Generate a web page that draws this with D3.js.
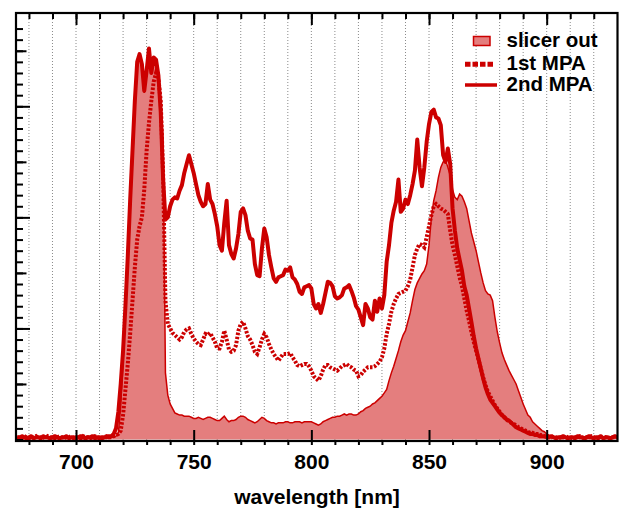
<!DOCTYPE html>
<html><head><meta charset="utf-8">
<script src="https://cdn.jsdelivr.net/npm/d3@7"></script>
<style>html,body{margin:0;padding:0;background:#fff;} svg{display:block;}</style>
</head><body>
<svg id="chart" width="619" height="509"></svg>
<script>
// wavelength grid (nm), 1 nm step
const wavelengths = d3.range(675, 931);

const slicerOut = [
 0.01,0.02,0.01,0.01,0.02,
 0.01,0.01,0.02,0.01,0.02,0.01,0.01,0.02,0.01,0.01,
 0.02,0.01,0.01,0.02,0.01,0.01,0.02,0.01,0.02,0.01,
 0.01,0.02,0.01,0.01,0.02,0.01,0.01,0.02,0.01,0.01,
 0.02,0.01,0.01,0.02,0.01,0.02,0.02,0.03,0.06,0.30,
 0.70,1.15,1.60,2.05,2.50,2.95,3.35,3.45,3.35,3.12,
 3.28,3.45,3.30,3.38,3.36,3.24,3.05,2.70,0.60,0.40,
 0.32,0.28,0.24,0.23,0.22,0.22,0.21,0.21,0.21,0.20,
 0.19,0.19,0.20,0.19,0.18,0.19,0.20,0.20,0.19,0.18,
 0.17,0.17,0.19,0.21,0.18,0.16,0.17,0.17,0.18,0.20,
 0.21,0.21,0.20,0.18,0.17,0.16,0.15,0.16,0.18,0.20,
 0.19,0.17,0.16,0.15,0.15,0.14,0.15,0.15,0.15,0.16,
 0.16,0.15,0.15,0.16,0.16,0.16,0.15,0.16,0.16,0.16,
 0.16,0.15,0.14,0.13,0.14,0.16,0.17,0.18,0.19,0.20,
 0.20,0.21,0.21,0.22,0.23,0.22,0.23,0.23,0.22,0.22,
 0.23,0.25,0.26,0.28,0.29,0.30,0.32,0.33,0.35,0.37,
 0.39,0.42,0.45,0.53,0.60,0.66,0.73,0.80,0.88,0.94,
 0.98,1.06,1.14,1.25,1.35,1.41,1.45,1.49,1.52,1.58,
 1.75,2.00,2.15,2.24,2.36,2.45,2.50,2.52,2.45,2.38,
 2.25,2.18,2.16,2.21,2.19,2.14,2.08,1.97,1.86,1.78,
 1.70,1.60,1.50,1.41,1.34,1.31,1.30,1.25,1.10,0.97,
 0.87,0.78,0.72,0.67,0.62,0.58,0.54,0.50,0.44,0.38,
 0.32,0.27,0.22,0.20,0.16,0.14,0.12,0.10,0.08,0.07,
 0.05,0.04,0.03,0.02,0.01,0.02,0.01,0.01,0.02,0.01,
 0.01,0.02,0.01,0.01,0.02,0.01,0.01,0.02,0.01,0.01,
 0.02,0.01,0.01,0.02,0.01,0.01,0.02,0.01,0.01,0.02,
 0.01
];

const firstMPA = [
 0.02,0.02,0.01,0.03,0.02,
 0.01,0.02,0.02,0.03,0.01,0.02,0.02,0.01,0.03,0.02,
 0.02,0.01,0.02,0.03,0.02,0.01,0.02,0.02,0.03,0.01,
 0.02,0.02,0.01,0.03,0.02,0.02,0.01,0.02,0.03,0.02,
 0.01,0.02,0.02,0.03,0.02,0.02,0.03,0.04,0.05,0.08,
 0.22,0.45,0.68,0.95,1.25,1.55,1.80,1.92,2.00,2.25,
 2.60,2.85,3.05,3.22,3.30,3.25,3.05,2.40,1.25,1.04,
 1.00,0.96,0.94,0.92,0.90,0.92,0.97,0.99,1.00,0.95,
 0.91,0.88,0.86,0.85,0.90,0.95,0.94,0.96,0.92,0.88,
 0.82,0.82,0.88,0.98,0.90,0.81,0.79,0.80,0.85,0.98,
 1.04,1.06,1.00,0.93,0.90,0.85,0.79,0.77,0.83,0.90,
 0.95,0.92,0.86,0.81,0.77,0.74,0.71,0.74,0.77,0.77,
 0.77,0.78,0.74,0.71,0.67,0.66,0.67,0.68,0.68,0.66,
 0.62,0.57,0.55,0.53,0.57,0.63,0.67,0.67,0.65,0.64,
 0.63,0.62,0.64,0.66,0.67,0.68,0.66,0.65,0.63,0.62,
 0.57,0.58,0.61,0.63,0.65,0.65,0.65,0.66,0.68,0.70,
 0.74,0.82,0.95,1.04,1.15,1.22,1.27,1.31,1.32,1.33,
 1.34,1.38,1.44,1.55,1.66,1.72,1.76,1.75,1.73,1.82,
 1.92,2.02,2.10,2.12,2.10,2.08,2.07,2.05,2.03,1.88,
 1.75,1.66,1.56,1.46,1.38,1.27,1.16,1.07,0.97,0.88,
 0.80,0.72,0.64,0.56,0.49,0.43,0.39,0.35,0.31,0.28,
 0.25,0.22,0.20,0.18,0.16,0.15,0.14,0.13,0.11,0.10,
 0.09,0.08,0.07,0.06,0.06,0.05,0.05,0.04,0.04,0.03,
 0.03,0.02,0.02,0.03,0.02,0.01,0.02,0.02,0.03,0.02,
 0.02,0.01,0.02,0.02,0.03,0.02,0.01,0.02,0.02,0.03,
 0.02,0.02,0.01,0.02,0.03,0.02,0.02,0.01,0.02,0.02,
 0.02
];

const secondMPA = [
 0.02,0.01,0.03,0.02,0.01,
 0.02,0.03,0.01,0.02,0.02,0.01,0.03,0.02,0.02,0.01,
 0.02,0.03,0.02,0.01,0.02,0.02,0.03,0.01,0.02,0.02,
 0.01,0.02,0.03,0.02,0.01,0.02,0.02,0.03,0.01,0.02,
 0.02,0.01,0.02,0.02,0.03,0.03,0.05,0.10,0.25,0.50,
 0.80,1.20,1.65,2.15,2.60,3.05,3.40,3.47,3.38,3.14,
 3.32,3.52,3.30,3.44,3.42,3.28,2.95,2.35,1.98,2.00,
 2.10,2.16,2.18,2.17,2.24,2.29,2.40,2.48,2.56,2.48,
 2.40,2.30,2.20,2.14,2.10,2.12,2.30,2.16,2.12,2.03,
 1.92,1.75,1.70,1.95,2.15,1.75,1.67,1.63,1.72,1.85,
 2.05,2.08,2.02,1.88,1.81,1.80,1.58,1.48,1.47,1.72,
 1.90,1.82,1.66,1.55,1.45,1.42,1.46,1.47,1.48,1.53,
 1.52,1.55,1.46,1.44,1.40,1.33,1.31,1.37,1.38,1.39,
 1.36,1.22,1.18,1.22,1.14,1.22,1.32,1.42,1.41,1.38,
 1.29,1.27,1.28,1.30,1.36,1.37,1.39,1.34,1.28,1.20,
 1.17,1.10,1.03,1.22,1.18,1.10,1.08,1.25,1.15,1.27,
 1.18,1.30,1.60,1.75,1.95,2.06,2.14,2.34,2.05,2.08,
 2.16,2.12,2.20,2.30,2.42,2.70,2.45,2.28,2.45,2.68,
 2.84,2.95,2.97,2.90,2.89,2.83,2.56,2.50,2.62,2.48,
 2.08,1.88,1.72,1.62,1.52,1.38,1.30,1.18,1.06,0.93,
 0.82,0.73,0.64,0.55,0.47,0.41,0.36,0.33,0.30,0.27,
 0.24,0.22,0.20,0.18,0.17,0.15,0.13,0.11,0.10,0.09,
 0.08,0.07,0.06,0.05,0.05,0.04,0.04,0.03,0.03,0.03,
 0.02,0.02,0.03,0.02,0.01,0.02,0.02,0.03,0.02,0.01,
 0.02,0.02,0.01,0.03,0.02,0.02,0.01,0.02,0.03,0.02,
 0.01,0.02,0.02,0.03,0.01,0.02,0.02,0.01,0.02,0.03,
 0.02
];

const xTickLabels = [700, 750, 800, 850, 900];
const xMinorTicks = d3.range(680, 930, 10);
const seriesNames = ["slicer out", "1st MPA", "2nd MPA"];
const xTitle = "wavelength [nm]";

const RED = "#cc0000", FILL = "#e47e7e";
const FONT = "'Liberation Sans', Arial, Helvetica, sans-serif";

const svg = d3.select("#chart");
const L = 16, R = 618, T = 13, B = 441;
const x = d3.scaleLinear().domain([674.5, 930.3]).range([L, R]);
const y = d3.scaleLinear().domain([0, 3.84]).range([439.5, T]);

const defs = svg.append("defs");
defs.append("clipPath").attr("id", "clip").append("rect")
  .attr("x", L).attr("y", T).attr("width", R - L).attr("height", B - T);

// grid
svg.append("g").selectAll("line").data(xMinorTicks).join("line")
  .attr("x1", d => x(d)).attr("x2", d => x(d))
  .attr("y1", T).attr("y2", B)
  .attr("stroke", "#8a8a8a").attr("stroke-width", 1)
  .attr("stroke-dasharray", "1,2");

const rows = wavelengths.map((w, i) => ({w, s: slicerOut[i], a: firstMPA[i], b: secondMPA[i]}));
const plot = svg.append("g").attr("clip-path", "url(#clip)");

plot.append("path").datum(rows)
  .attr("d", d3.area().x(d => x(d.w)).y0(y(0)).y1(d => y(d.s)))
  .attr("fill", FILL).attr("stroke", "none");
plot.append("path").datum(rows)
  .attr("d", d3.line().x(d => x(d.w)).y(d => y(d.s)))
  .attr("fill", "none").attr("stroke", RED).attr("stroke-width", 1.5);
plot.append("path").datum(rows)
  .attr("d", d3.line().x(d => x(d.w)).y(d => y(d.a)))
  .attr("fill", "none").attr("stroke", RED).attr("stroke-width", 4)
  .attr("stroke-dasharray", "2.5,1.6");
plot.append("path").datum(rows)
  .attr("d", d3.line().x(d => x(d.w)).y(d => y(d.b)))
  .attr("fill", "none").attr("stroke", RED).attr("stroke-width", 4)
  .attr("stroke-linejoin", "round");

// axes
function styleTicks(g) {
  g.select(".domain").remove();
  g.selectAll(".tick line").attr("stroke", "#000").attr("stroke-width", 2);
}
svg.append("g").attr("transform", `translate(0,${B})`)
  .call(d3.axisBottom(x).tickValues(xMinorTicks).tickSize(4).tickFormat(""))
  .call(styleTicks);
svg.append("g").attr("transform", `translate(0,${B})`)
  .call(d3.axisTop(x).tickValues(xTickLabels).tickSize(11).tickFormat(""))
  .call(styleTicks);
const lab = svg.append("g").attr("transform", `translate(0,${B})`)
  .call(d3.axisBottom(x).tickValues(xTickLabels).tickSize(0).tickFormat(d3.format("d")));
lab.select(".domain").remove();
lab.selectAll("text").attr("y", 27.5).attr("dy", null)
  .attr("font-family", FONT).attr("font-weight", "bold").attr("font-size", "21px").attr("fill", "#000");
svg.append("g").attr("transform", `translate(0,${T})`)
  .call(d3.axisBottom(x).tickValues(xMinorTicks).tickSize(6).tickFormat(""))
  .call(styleTicks);
svg.append("g").attr("transform", `translate(0,${T})`)
  .call(d3.axisBottom(x).tickValues(xTickLabels).tickSize(12).tickFormat(""))
  .call(styleTicks);
const yMinor = d3.range(0, 38).map(i => i / 10);
const yMid = [0.5, 1.5, 2.5, 3.5];
const yMajor = [1, 2, 3];
svg.append("g").attr("transform", `translate(${L},0)`)
  .call(d3.axisRight(y).tickValues(yMinor).tickSize(7).tickFormat("")).call(styleTicks);
svg.append("g").attr("transform", `translate(${L},0)`)
  .call(d3.axisRight(y).tickValues(yMid).tickSize(10.5).tickFormat("")).call(styleTicks);
svg.append("g").attr("transform", `translate(${L},0)`)
  .call(d3.axisRight(y).tickValues(yMajor).tickSize(14).tickFormat("")).call(styleTicks);

// frame
svg.append("rect").attr("x", L).attr("y", T).attr("width", R - L - 0.5).attr("height", B - T)
  .attr("fill", "none").attr("stroke", "#000").attr("stroke-width", 2.2);

// x title
svg.append("text").attr("x", 317).attr("y", 503.5).attr("text-anchor", "middle")
  .attr("font-family", FONT).attr("font-weight", "bold").attr("font-size", "21px")
  .text(xTitle);

// legend
const lg = svg.append("g");
lg.append("rect").attr("x", 473.5).attr("y", 36.5).attr("width", 16.5).attr("height", 9)
  .attr("fill", FILL).attr("stroke", RED).attr("stroke-width", 1.5);
lg.append("line").attr("x1", 465).attr("x2", 494).attr("y1", 64.3).attr("y2", 64.3)
  .attr("stroke", RED).attr("stroke-width", 5).attr("stroke-dasharray", "5.5,2");
lg.append("line").attr("x1", 465).attr("x2", 497).attr("y1", 85).attr("y2", 85)
  .attr("stroke", RED).attr("stroke-width", 3.5);
const legendY = [47, 69.5, 90.5];
lg.selectAll("text").data(seriesNames).join("text")
  .attr("x", 506.5).attr("y", (d, i) => legendY[i])
  .attr("font-family", FONT).attr("font-weight", "bold").attr("font-size", "20.5px")
  .text(d => d);
</script>
</body></html>
